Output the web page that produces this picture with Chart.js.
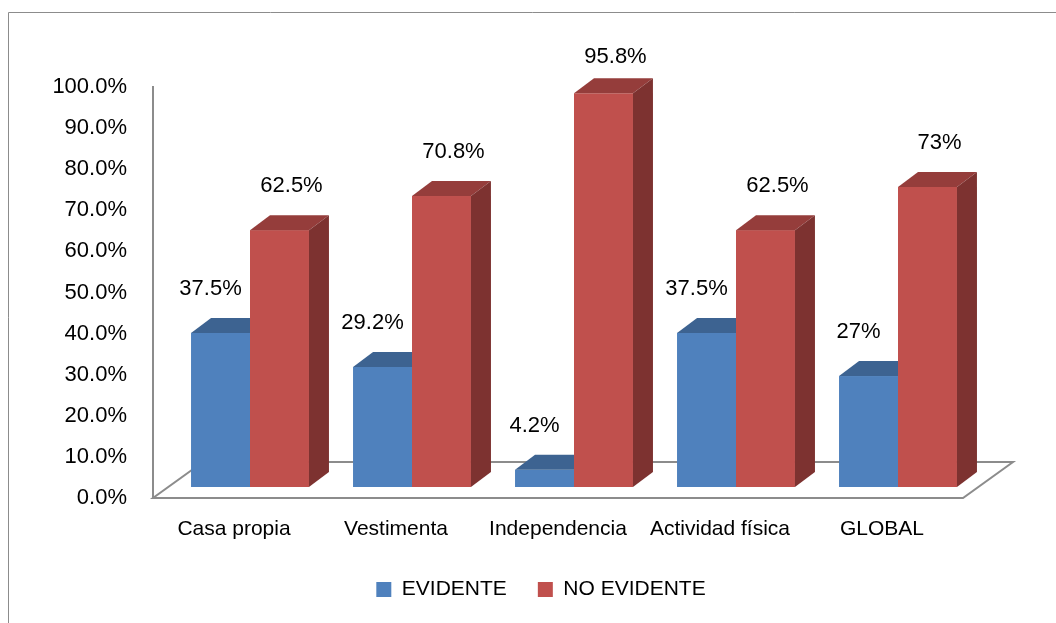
<!DOCTYPE html>
<html>
<head>
<meta charset="utf-8">
<script src="https://cdn.jsdelivr.net/npm/chart.js@4.4.0/dist/chart.umd.min.js"></script>
<style>
  html, body { margin: 0; padding: 0; background: #fff; }
  #wrap { width: 1056px; height: 623px; position: relative; }
</style>
</head>
<body>
<div id="wrap"><canvas id="chart"></canvas></div>
<script>
// data
const categories = ['Casa propia', 'Vestimenta', 'Independencia', 'Actividad física', 'GLOBAL'];
const seriesNames = ['EVIDENTE', 'NO EVIDENTE'];
const evidente = [37.5, 29.2, 4.2, 37.5, 27];
const noEvidente = [62.5, 70.8, 95.8, 62.5, 73];
const yMin = 0, yMax = 100, yStep = 10;

const FONT = "'Liberation Sans', Arial, sans-serif";

// 3D look
const DEPTH_X = 20, DEPTH_Y = -15;   // bar depth
const FLOOR_X = 50, FLOOR_Y = -36;   // floor depth
const SHIFT_X = 16, SHIFT_Y = -11;   // bars sit half way into the floor
const faces = {
    '#4F81BD': { top: '#3D6391', side: '#345580' },
    '#C0504D': { top: '#953D3B', side: '#7D3230' }
};
const labelOffset = [-10, 12];
const LEGEND_SHIFT = -17;

function fmt(v) {
    return Number.isInteger(v) ? v + '%' : v.toFixed(1) + '%';
}

function poly(ctx, pts, color) {
    ctx.beginPath();
    ctx.moveTo(pts[0][0], pts[0][1]);
    pts.slice(1).forEach(p => ctx.lineTo(p[0], p[1]));
    ctx.closePath();
    ctx.fillStyle = color;
    ctx.fill();
}

const bars3d = {
    id: 'bars3d',
    afterLayout(chart) {
        // nudge the legend a bit left, like the original
        chart.legend.left += LEGEND_SHIFT;
        chart.legend.right += LEGEND_SHIFT;
    },
    beforeDraw(chart) {
        // outer frame (cut off at right and bottom)
        const ctx = chart.ctx;
        ctx.save();
        ctx.strokeStyle = '#8c8c8c';
        ctx.lineWidth = 1;
        ctx.beginPath();
        ctx.moveTo(8.5, chart.height);
        ctx.lineTo(8.5, 12.5);
        ctx.lineTo(chart.width, 12.5);
        ctx.stroke();
        ctx.restore();
    },
    beforeDatasetsDraw(chart) {
        // floor
        const ctx = chart.ctx;
        const a = chart.chartArea;
        ctx.save();
        ctx.beginPath();
        ctx.moveTo(a.left, a.bottom);
        ctx.lineTo(a.right, a.bottom);
        ctx.lineTo(a.right + FLOOR_X, a.bottom + FLOOR_Y);
        ctx.lineTo(a.left + FLOOR_X, a.bottom + FLOOR_Y);
        ctx.closePath();
        ctx.fillStyle = '#fff';
        ctx.fill();
        ctx.strokeStyle = '#8c8c8c';
        ctx.lineWidth = 2;
        ctx.stroke();
        ctx.restore();
    },
    beforeDatasetDraw() {
        return false;
    },
    afterDatasetsDraw(chart) {
        const ctx = chart.ctx;
        const metas = chart.data.datasets.map((d, i) => chart.getDatasetMeta(i));
        ctx.save();
        ctx.translate(SHIFT_X, SHIFT_Y);
        categories.forEach((c, j) => {
            metas.forEach((meta, i) => {
                const el = meta.data[j];
                const { x, y, base, width } = el.getProps(['x', 'y', 'base', 'width'], true);
                const l = x - width / 2, r = x + width / 2;
                const col = chart.data.datasets[i].backgroundColor;
                ctx.fillStyle = col;
                ctx.fillRect(l, y, width, base - y);
                poly(ctx, [[l, y], [l + DEPTH_X, y + DEPTH_Y], [r + DEPTH_X, y + DEPTH_Y], [r, y]], faces[col].top);
                poly(ctx, [[r, y], [r + DEPTH_X, y + DEPTH_Y], [r + DEPTH_X, base + DEPTH_Y], [r, base]], faces[col].side);
            });
        });
        // value labels
        ctx.font = '22px ' + FONT;
        ctx.fillStyle = '#000';
        ctx.textAlign = 'center';
        ctx.textBaseline = 'middle';
        metas.forEach((meta, i) => {
            const vals = chart.data.datasets[i].data;
            meta.data.forEach((el, j) => {
                const ty = Math.max(el.y - 44, chart.chartArea.top - 30 - SHIFT_Y);
                ctx.fillText(fmt(vals[j]), el.x + labelOffset[i], ty);
            });
        });
        ctx.restore();
    }
};

new Chart(document.getElementById('chart'), {
    type: 'bar',
    data: {
        labels: categories,
        datasets: [
            { label: seriesNames[0], data: evidente, backgroundColor: '#4F81BD' },
            { label: seriesNames[1], data: noEvidente, backgroundColor: '#C0504D' }
        ]
    },
    options: {
        responsive: true,
        maintainAspectRatio: false,
        animation: false,
        events: [],
        layout: {
            padding: { left: 0, right: 93, top: 87, bottom: 13 }
        },
        datasets: {
            bar: { categoryPercentage: 0.728, barPercentage: 1 }
        },
        scales: {
            x: {
                grid: { display: false, drawTicks: false },
                border: { display: false },
                ticks: {
                    padding: 19,
                    color: '#000',
                    font: { family: FONT, size: 21 },
                    maxRotation: 0
                },
                afterFit(scale) { scale.height = 50; }
            },
            y: {
                min: yMin,
                max: yMax,
                grid: { display: false, drawTicks: false },
                border: { display: true, color: '#8c8c8c', width: 2 },
                ticks: {
                    stepSize: yStep,
                    padding: 26,
                    color: '#000',
                    font: { family: FONT, size: 22 },
                    callback: v => v.toFixed(1) + '%'
                },
                afterFit(scale) { scale.width = 153; }
            }
        },
        plugins: {
            legend: {
                position: 'bottom',
                fullSize: false,
                labels: {
                    boxWidth: 15,
                    boxHeight: 15,
                    padding: 31,
                    color: '#000',
                    font: { family: FONT, size: 21 }
                }
            },
            tooltip: { enabled: false }
        }
    },
    plugins: [bars3d]
});
</script>
</body>
</html>
